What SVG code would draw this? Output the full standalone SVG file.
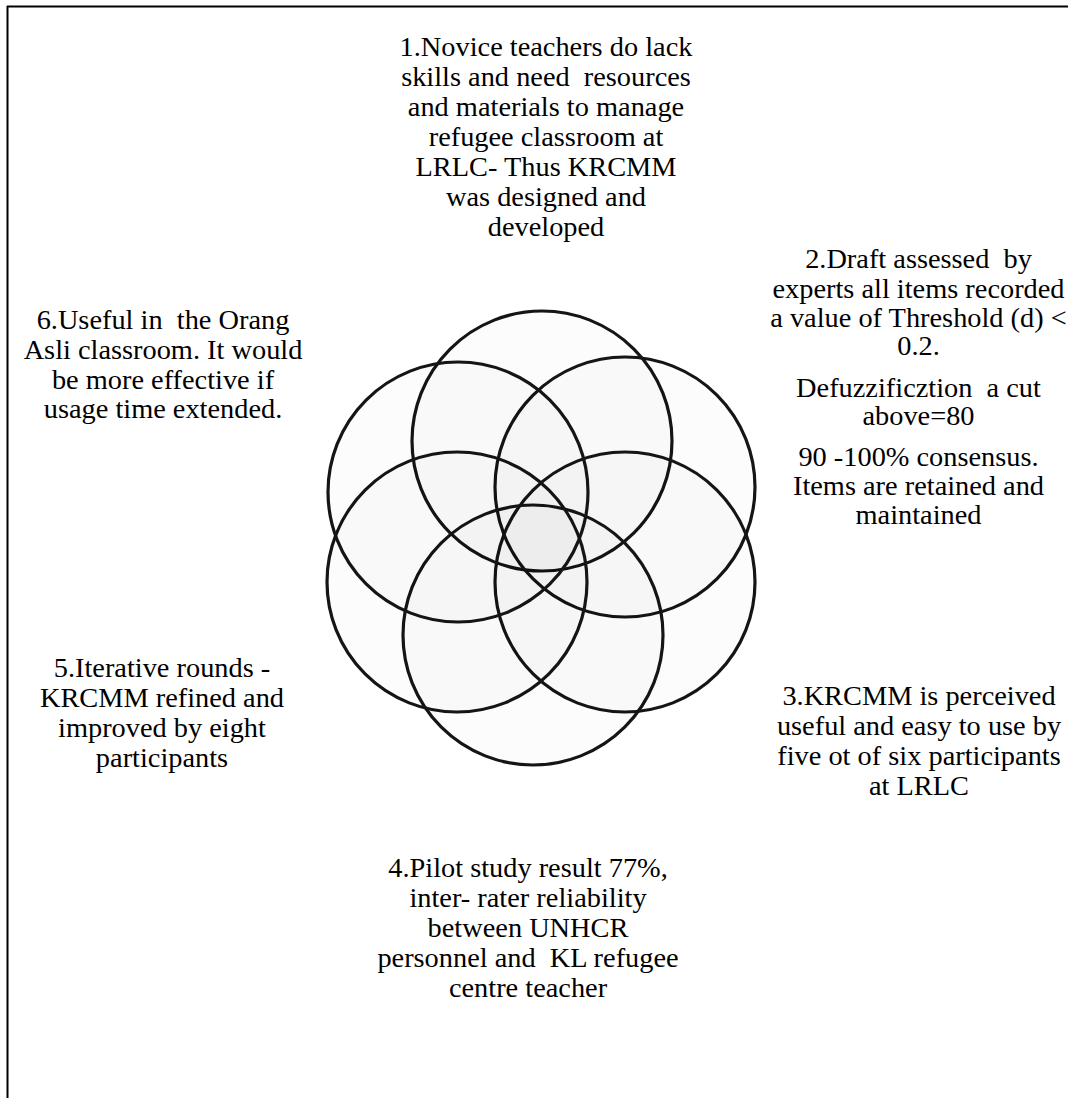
<svg xmlns="http://www.w3.org/2000/svg" width="1068" height="1098" viewBox="0 0 1068 1098">
<style>
.t{font-family:"Liberation Serif","Times New Roman",serif;font-size:26.5px;fill:#000;text-anchor:middle}
.c{fill:#000;fill-opacity:0.012;stroke:#151515;stroke-width:3.2}
.b{stroke:#000;stroke-width:2;fill:none}
</style>
<rect width="1068" height="1098" fill="#fff"/>
<g id="frame">
<line class="b" x1="7" y1="6.5" x2="1068" y2="6.5"/>
<line class="b" x1="7.5" y1="6" x2="7.5" y2="1098"/>
</g>
<g id="flower">
<circle class="c" cx="542" cy="441" r="130"/>
<circle class="c" cx="625" cy="487" r="130"/>
<circle class="c" cx="625" cy="582" r="130"/>
<circle class="c" cx="533" cy="635" r="130"/>
<circle class="c" cx="457" cy="582" r="130"/>
<circle class="c" cx="458" cy="492" r="130"/>
</g>
<g id="connectors"/>
<g id="node1" transform="translate(546 0) scale(1.07 1)">
<text class="t"><tspan x="0" y="56.5">1.Novice teachers do lack</tspan><tspan x="0" y="86.5">skills and need&#160; resources</tspan><tspan x="0" y="116.5">and materials to manage</tspan><tspan x="0" y="146.5">refugee classroom at</tspan><tspan x="0" y="176.5">LRLC- Thus KRCMM</tspan><tspan x="0" y="206.5">was designed and</tspan><tspan x="0" y="236.5">developed</tspan></text>
</g>
<g id="node2" transform="translate(918.5 0) scale(1.07 1)">
<text class="t"><tspan x="0" y="268">2.Draft assessed&#160; by</tspan><tspan x="0" y="298">experts all items recorded</tspan><tspan x="0" y="327">a value of Threshold (d) &lt;</tspan><tspan x="0" y="355.5">0.2.</tspan><tspan x="0" y="397">Defuzzificztion&#160; a cut</tspan><tspan x="0" y="425.5">above=80</tspan><tspan x="0" y="466">90 -100% consensus.</tspan><tspan x="0" y="495">Items are retained and</tspan><tspan x="0" y="524">maintained</tspan></text>
</g>
<g id="node3" transform="translate(919 0) scale(1.07 1)">
<text class="t"><tspan x="0" y="705">3.KRCMM is perceived</tspan><tspan x="0" y="735">useful and easy to use by</tspan><tspan x="0" y="765">five ot of six participants</tspan><tspan x="0" y="795">at LRLC</tspan></text>
</g>
<g id="node4" transform="translate(528 0) scale(1.07 1)">
<text class="t"><tspan x="0" y="877">4.Pilot study result 77%,</tspan><tspan x="0" y="907">inter- rater reliability</tspan><tspan x="0" y="937">between UNHCR</tspan><tspan x="0" y="967">personnel and&#160; KL refugee</tspan><tspan x="0" y="997">centre teacher</tspan></text>
</g>
<g id="node5" transform="translate(162 0) scale(1.07 1)">
<text class="t"><tspan x="0" y="677">5.Iterative rounds -</tspan><tspan x="0" y="707">KRCMM refined and</tspan><tspan x="0" y="737">improved by eight</tspan><tspan x="0" y="767">participants</tspan></text>
</g>
<g id="node6" transform="translate(163 0) scale(1.07 1)">
<text class="t"><tspan x="0" y="329">6.Useful in&#160; the Orang</tspan><tspan x="0" y="359">Asli classroom. It would</tspan><tspan x="0" y="389">be more effective if</tspan><tspan x="0" y="418">usage time extended.</tspan></text>
</g>
</svg>
